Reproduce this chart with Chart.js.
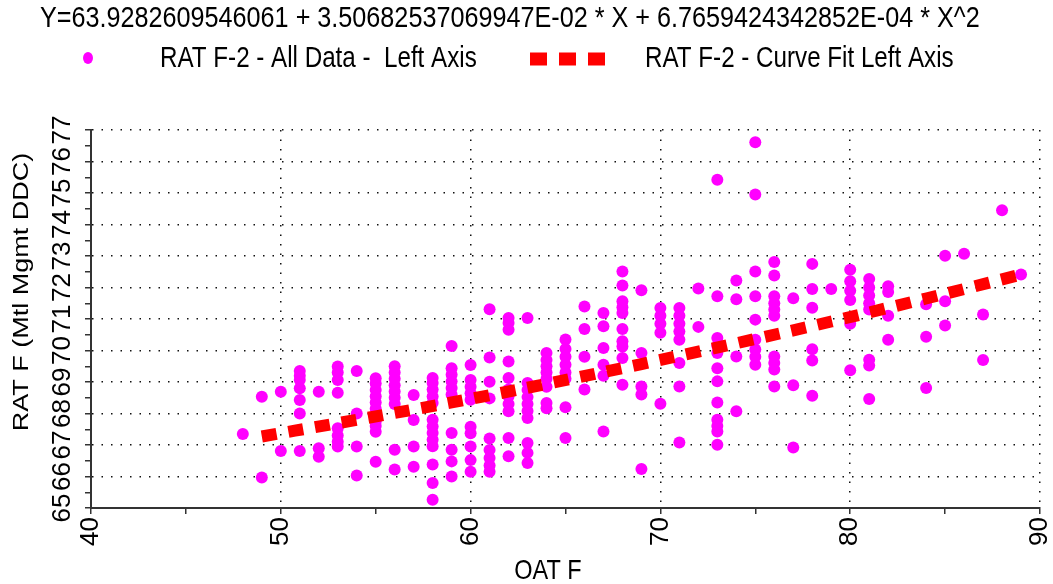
<!DOCTYPE html>
<html>
<head>
<meta charset="utf-8">
<title>RAT F-2 vs OAT F</title>
<script src="https://cdn.jsdelivr.net/npm/chart.js@4.4.1/dist/chart.umd.min.js"></script>
<style>
  html, body { margin: 0; padding: 0; background: #fff; }
</style>
</head>
<body>
<canvas id="chart" width="1053" height="584"></canvas>
<script>
// RAT F-2 scatter + curve fit

const FIT_EQUATION = 'Y=63.9282609546061 + 3.50682537069947E-02 * X + 6.7659424342852E-04 * X^2';
const X_TITLE = 'OAT F';
const Y_TITLE = 'RAT F (Mtl Mgmt DDC)';
const POINTS_LABEL = 'RAT F-2 - All Data -  Left Axis';
const FIT_LABEL = 'RAT F-2 - Curve Fit Left Axis';

// outside air temp columns (x) and the RAT readings at each
const oatColumns = [48, 49, 50, 51, 52, 53, 54, 55, 56, 57, 58, 59, 60, 61, 62, 63, 64, 65, 66, 67, 68,
  69, 70, 71, 72, 73, 74, 75, 76, 77, 78, 79, 80, 81, 82, 84, 85, 86, 87, 88, 89];
const ratByColumn = [
  [67.35],
  [68.53, 65.97],
  [68.69, 66.81],
  [69.35, 69.2, 69.06, 68.8, 68.43, 68.0, 66.81],
  [68.69, 66.9, 66.63],
  [69.49, 69.3, 69.06, 68.66, 67.53, 67.3, 67.1, 66.95],
  [69.35, 68.0, 66.95, 66.03],
  [69.12, 68.95, 68.75, 68.55, 68.35, 68.15, 67.95, 67.75, 67.6, 67.42, 66.47],
  [69.5, 69.3, 69.1, 68.9, 68.7, 68.5, 68.3, 66.85, 66.22],
  [68.59, 67.79, 66.95, 66.31],
  [69.13, 68.97, 68.76, 68.54, 68.33, 67.8, 67.59, 67.38, 67.17, 66.96, 66.38, 65.79, 65.26],
  [70.14, 69.44, 69.23, 69.02, 68.81, 68.6, 67.38, 66.85, 66.48, 66.0],
  [69.54, 69.06, 68.85, 68.64, 68.44, 67.58, 67.37, 66.95, 66.52, 66.15],
  [71.31, 69.78, 69.01, 68.48, 67.21, 66.84, 66.59, 66.35, 66.15],
  [71.03, 70.87, 70.66, 69.65, 69.13, 68.76, 68.55, 68.3, 68.07, 67.22, 66.64],
  [71.03, 68.97, 68.75, 68.52, 68.3, 68.08, 67.86, 67.06, 66.75, 66.43],
  [69.92, 69.7, 69.5, 69.3, 69.1, 68.85, 68.33, 68.17],
  [70.35, 70.05, 69.8, 69.55, 69.3, 69.1, 68.2, 67.22],
  [71.4, 70.68, 69.8, 68.76],
  [71.19, 70.77, 70.08, 69.55, 69.2, 67.43],
  [72.51, 72.06, 71.56, 71.37, 71.19, 70.68, 70.29, 70.13, 69.76, 68.91],
  [71.91, 69.92, 68.86, 68.6, 66.24],
  [71.35, 71.1, 70.85, 70.56, 68.31],
  [71.35, 71.1, 70.85, 70.6, 70.34, 69.6, 68.86, 67.08],
  [71.97, 70.75],
  [75.42, 71.72, 70.4, 70.15, 69.92, 69.44, 69.02, 68.35, 67.8, 67.6, 67.43, 67.01],
  [72.22, 71.63, 69.81, 68.07],
  [76.61, 74.95, 72.51, 71.72, 70.98, 70.34, 70.03, 69.8, 69.55],
  [72.81, 72.38, 71.72, 71.5, 71.3, 71.1, 69.81, 69.6, 69.4, 68.86],
  [71.66, 68.9, 66.92],
  [72.75, 71.95, 71.36, 70.04, 69.68, 68.56],
  [71.95],
  [72.56, 72.2, 71.9, 71.6, 70.85, 69.37],
  [72.27, 72.0, 71.75, 71.5, 71.3, 69.71, 69.52, 68.46],
  [72.04, 71.86, 71.1, 70.34],
  [71.47, 70.44, 68.81],
  [73.01, 71.56, 70.79],
  [73.07],
  [71.14, 69.7],
  [74.45],
  [72.41]
];

// curve fit
const fitOat = [49, 54, 59, 64, 69, 74, 79, 84, 89];
const fitRat = [67.27, 67.8, 68.35, 68.94, 69.57, 70.23, 70.92, 71.65, 72.41];

const FONT = "'Liberation Sans', Arial, sans-serif";
const STRETCH = 1.2; // source picture is a bit taller than wide

const points = [];
oatColumns.forEach((x, i) => {
  ratByColumn[i].forEach(y => points.push({x, y}));
});
const fitLine = fitOat.map((x, i) => ({x, y: fitRat[i]}));

function tallText(ctx, text, x, y, size, align, angle) {
  ctx.save();
  ctx.translate(x, y);
  ctx.scale(1, STRETCH);
  ctx.rotate(angle || 0);
  ctx.font = size + 'px ' + FONT;
  ctx.textAlign = align;
  ctx.textBaseline = 'middle';
  ctx.fillText(text, 0, 0);
  ctx.restore();
}

// title, legend row and axis titles
const headerPlugin = {
  id: 'header',
  afterDraw(chart) {
    const ctx = chart.ctx;
    ctx.save();
    ctx.fillStyle = '#000';
    tallText(ctx, FIT_EQUATION, 40, 19, 25.2, 'left');

    // legend: magenta dot, red dashes
    ctx.fillStyle = '#ff00ff';
    ctx.beginPath();
    ctx.ellipse(88, 58, 5, 6, 0, 0, Math.PI * 2);
    ctx.fill();
    ctx.fillStyle = '#000';
    tallText(ctx, POINTS_LABEL, 160, 59, 24.2, 'left');
    ctx.strokeStyle = '#ff0000';
    ctx.lineWidth = 13;
    ctx.setLineDash([17, 12]);
    ctx.beginPath();
    ctx.moveTo(530, 59);
    ctx.lineTo(606, 59);
    ctx.stroke();
    ctx.setLineDash([]);
    tallText(ctx, FIT_LABEL, 645, 59, 24.2, 'left');

    tallText(ctx, X_TITLE, 548, 571, 23.5, 'center');
    tallText(ctx, Y_TITLE, 22, 292, 22.5, 'center', -Math.PI / 2);
    ctx.restore();
  }
};

const gridColor = (step) => (c) => (c.tick && Math.abs(c.tick.value / step - Math.round(c.tick.value / step)) < 1e-6) ? '#111' : 'rgba(0,0,0,0)';

new Chart(document.getElementById('chart'), {
  type: 'scatter',
  data: {
    datasets: [
      {
        label: FIT_LABEL,
        data: fitLine,
        showLine: true,
        borderColor: '#ff0000',
        backgroundColor: '#ff0000',
        borderWidth: 12,
        borderDash: [15, 12],
        cubicInterpolationMode: 'monotone',
        pointRadius: 0,
        order: 0
      },
      {
        label: POINTS_LABEL,
        data: points,
        backgroundColor: '#ff00ff',
        borderColor: '#ff00ff',
        borderWidth: 0,
        pointRadius: 6,
        order: 1
      }
    ]
  },
  options: {
    responsive: false,
    animation: false,
    layout: {padding: {top: 130, right: 13, left: 0, bottom: 0}},
    plugins: {legend: {display: false}, tooltip: {enabled: false}, title: {display: false}},
    scales: {
      x: {
        type: 'linear',
        min: 40,
        max: 90,
        afterFit(s) { s.height = 76; s.paddingLeft = 0; s.paddingRight = 0; },
        ticks: {
          stepSize: 5,
          autoSkip: false,
          minRotation: 90,
          maxRotation: 90,
          padding: 3,
          color: '#000',
          font: {family: FONT, size: 26},
          callback: (v) => v % 10 === 0 ? v : ''
        },
        grid: {
          color: gridColor(10),
          lineWidth: 1.5,
          tickColor: '#333',
          tickLength: 6,
          tickWidth: 1.5
        },
        border: {display: true, color: '#333', width: 2, dash: [1.5, 8]}
      },
      y: {
        type: 'linear',
        min: 65,
        max: 77,
        afterFit(s) { s.width = 91; s.paddingTop = 0; s.paddingBottom = 0; },
        ticks: {
          stepSize: 0.5,
          autoSkip: false,
          minRotation: 90,
          maxRotation: 90,
          crossAlign: 'center',
          padding: 8,
          color: '#000',
          font: {family: FONT, size: 26},
          callback: (v) => v % 1 === 0 ? v : ''
        },
        grid: {
          color: gridColor(1),
          lineWidth: 1.5,
          tickColor: '#333',
          tickLength: 6,
          tickWidth: 1.5
        },
        border: {display: true, color: '#333', width: 2, dash: [1.5, 8]}
      }
    }
  },
  plugins: [headerPlugin]
});
</script>
</body>
</html>
